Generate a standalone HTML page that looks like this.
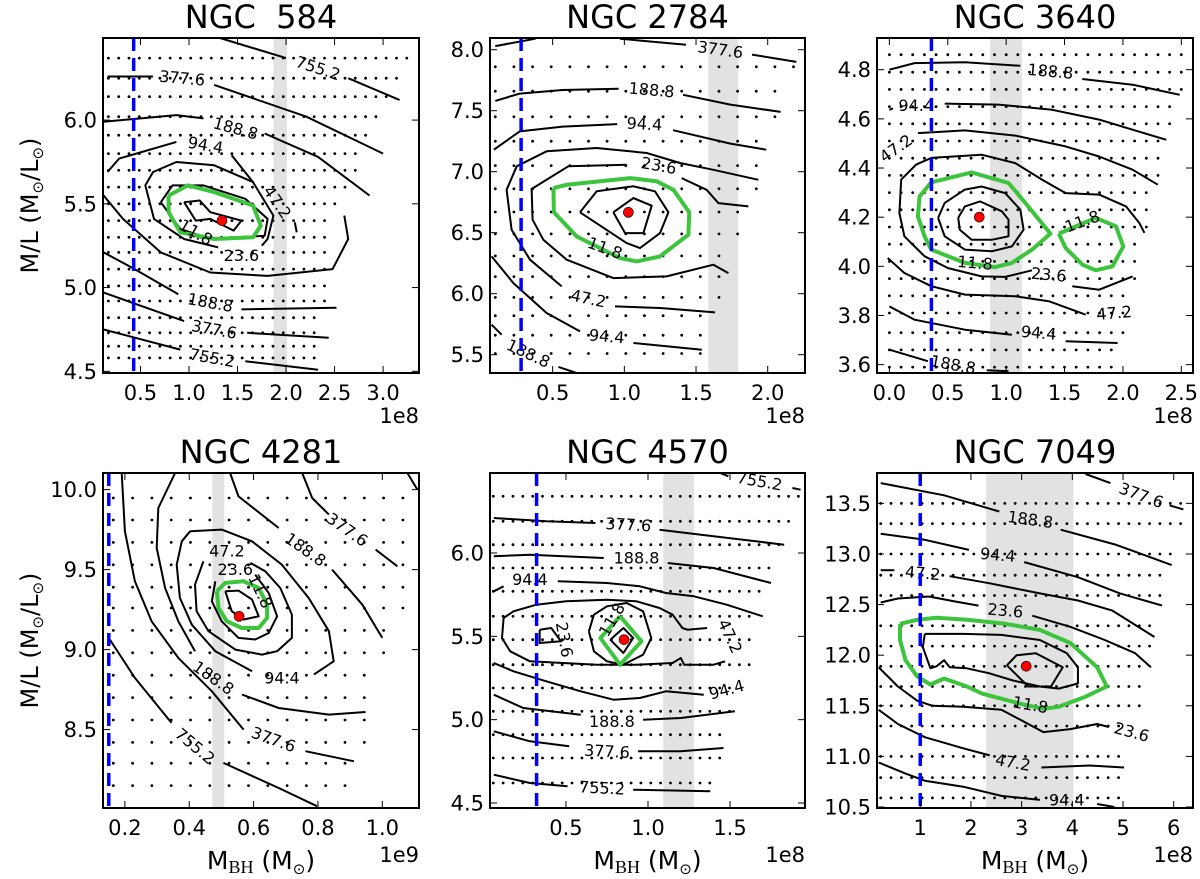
<!DOCTYPE html>
<html><head><meta charset="utf-8"><style>
html,body{margin:0;padding:0;background:#fff;}
svg{display:block;font-family:"DejaVu Sans","Liberation Sans",sans-serif;}
</style></head><body>
<svg id="fig" xmlns="http://www.w3.org/2000/svg" width="1200" height="879" viewBox="0 0 1200 879"></svg>
<script>
// ===== Panel 1: NGC 584 =====
const p1XTicks=[0.5,1.0,1.5,2.0,2.5,3.0];
const p1YTicks=[4.5,5.0,5.5,6.0];
const p1DotRows=[6.37,6.25,6.14,6.02,5.91,5.8,5.7,5.6,5.5,5.4,5.3,5.21,5.11,5.01,4.92,4.82,4.73,4.65,4.58];
const p1DotEnds=[3.31,3.2,3.12,3.0,2.9,2.8,2.72,2.62,2.55,2.5,2.5,2.5,2.5,2.45,2.4,2.35,2.35,2.3,2.3];
const p1Lines=[
 [[1.32,6.49],[2.0,6.37]],[[2.64,6.25],[3.17,6.12]],
 [[0.16,6.26],[0.63,6.26]],[[1.26,6.21],[2.21,6.02],[3.0,5.8]],
 [[0.12,5.99],[0.87,6.03],[1.15,6.01]],[[1.78,5.92],[2.33,5.78],[2.86,5.55]],
 [[0.16,5.69],[0.28,5.77],[0.87,5.87]],[[1.44,5.79],[1.66,5.63]],
 [[0.12,5.55],[0.32,5.41],[0.71,5.21],[1.22,5.09],[1.81,5.07],[2.48,5.11],[2.64,5.29],[2.6,5.43]],
 [[2.09,5.39],[2.11,5.33]],
 [[1.3,5.24],[0.95,5.29],[0.64,5.41],[0.55,5.61],[0.63,5.69],[0.87,5.75],[1.26,5.73],[1.66,5.63],[1.87,5.43],[1.81,5.29],[1.75,5.25]],
 [[0.71,5.51],[0.83,5.61],[1.15,5.61],[1.58,5.53],[1.81,5.41],[1.78,5.31],[1.22,5.29],[0.91,5.35],[0.71,5.51]],
 [[0.95,5.51],[1.11,5.52],[1.22,5.45],[1.54,5.4],[1.46,5.34],[1.22,5.41],[1.07,5.4],[0.95,5.51]],
 [[0.12,5.21],[0.44,5.11],[0.89,4.96]],[[1.54,4.87],[2.52,4.88]],
 [[0.12,4.97],[0.95,4.8]],[[1.6,4.73],[2.44,4.7]],
 [[0.12,4.75],[0.91,4.63]],[[1.58,4.56],[2.33,4.51]]
];
const p1Green=[[0.79,5.55],[0.99,5.61],[1.26,5.57],[1.66,5.49],[1.74,5.37],[1.66,5.3],[1.26,5.29],[0.91,5.33],[0.79,5.45],[0.79,5.55]];
const p1Labels=[["755.2",2.33,6.31,18],["377.6",0.93,6.25,5],["188.8",1.48,5.95,15],["94.4",1.17,5.85,10],["47.2",1.91,5.51,55],["23.6",1.54,5.19,0],["11.8",1.07,5.33,30],["188.8",1.22,4.91,10],["377.6",1.26,4.75,10],["755.2",1.24,4.58,10]];

// ===== Panel 2: NGC 2784 =====
const p2XTicks=[0.5,1.0,1.5,2.0];
const p2YTicks=[5.5,6.0,6.5,7.0,7.5,8.0];
const p2DotRows=[7.86,7.66,7.45,7.25,7.05,6.86,6.67,6.49,6.31,6.14,5.97,5.82,5.66,5.51];
const p2DotEnds=[2.19,2.14,2.09,2.04,1.98,1.92,1.85,1.81,1.77,1.73,1.68,1.63,1.59,1.54];
const p2Lines=[
 [[0.1,8.03],[0.38,8.09]],[[0.97,8.09],[1.43,8.04]],[[1.89,7.96],[2.2,7.9]],
 [[0.1,7.58],[0.27,7.64],[0.57,7.67],[0.96,7.68]],[[1.41,7.63],[1.74,7.55],[2.09,7.49]],
 [[0.09,7.18],[0.27,7.33],[0.57,7.37],[0.95,7.39]],[[1.34,7.34],[1.74,7.23],[1.99,7.18]],
 [[0.563,6.06],[0.342,6.279],[0.214,6.525],[0.179,6.852],[0.249,7.044],[0.458,7.167],[0.807,7.194],[1.156,7.153],[1.388,7.071],[1.621,7.016],[1.935,6.934]],
 [[1.016,7.057],[0.609,7.044],[0.353,6.858],[0.36,6.607],[0.435,6.443],[0.598,6.279],[0.923,6.128],[1.295,6.142],[1.621,6.238],[1.726,6.169]],
 [[1.4,6.948],[1.574,6.852],[1.656,6.743],[1.865,6.716]],
 [[0.691,6.667],[0.807,6.839],[1.063,6.88],[1.214,6.839],[1.307,6.667],[1.249,6.497],[1.109,6.374],[1.016,6.415],[0.691,6.667]],
 [[0.923,6.667],[1.063,6.784],[1.191,6.721],[1.133,6.497],[1.005,6.497],[0.923,6.667]],
 [[0.935,5.896],[1.249,5.883],[1.633,5.847]],
 [[0.074,6.306],[0.226,6.087],[0.458,5.842],[0.691,5.691]],[[1.063,5.596],[1.54,5.541]],
 [[0.074,5.746],[0.144,5.664]],[[0.54,5.4],[0.667,5.35]]
];
const p2Green=[[0.505,6.866],[0.598,6.893],[1.04,6.948],[1.226,6.921],[1.342,6.852],[1.453,6.667],[1.447,6.484],[1.249,6.306],[1.086,6.265],[0.97,6.292],[0.667,6.47],[0.509,6.667],[0.505,6.866]];
const p2Labels=[["377.6",1.67,8.0,8],["188.8",1.19,7.67,5],["94.4",1.14,7.39,3],["23.6",1.24,7.05,10],["11.8",0.865,6.374,20],["47.2",0.749,5.96,12],["94.4",0.877,5.65,5],["188.8",0.33,5.51,25]];

// ===== Panel 3: NGC 3640 =====
const p3XTicks=[0.0,0.5,1.0,1.5,2.0,2.5];
const p3YTicks=[3.6,3.8,4.0,4.2,4.4,4.6,4.8];
const p3DotRows=[4.861,4.79,4.72,4.65,4.58,4.51,4.44,4.37,4.3,4.23,4.16,4.09,4.02,3.95,3.88,3.81,3.73,3.66,3.59];
const p3DotEnds=[2.59,2.55,2.5,2.46,2.42,2.38,2.35,2.3,2.25,2.23,2.2,2.17,2.15,2.1,2.07,2.05,2.02,1.98,1.94];
const p3Lines=[
 [[0,4.8],[0.216,4.827],[0.647,4.83],[1.121,4.816]],[[1.652,4.762],[2.083,4.739],[2.486,4.698]],
 [[0,4.637],[0.03,4.643]],[[0.474,4.662],[0.934,4.658],[1.394,4.637],[1.796,4.597],[2.083,4.556],[2.371,4.515]],
 [[0.244,4.542],[0.647,4.553],[1.078,4.532],[1.509,4.488],[1.796,4.447],[2.083,4.393],[2.299,4.332]],
 [[1.221,3.984],[0.991,3.957],[0.79,3.959],[0.503,3.993],[0.302,4.041],[0.129,4.122],[0.086,4.217],[0.101,4.353],[0.23,4.414],[0.359,4.441],[0.79,4.454],[1.078,4.42],[1.307,4.353],[1.509,4.298],[1.796,4.292],[2.026,4.244],[2.141,4.176],[2.184,4.136]],
 [[1.566,3.919],[1.796,3.905],[2.083,3.959]],
 [[0.417,4.197],[0.474,4.258],[0.647,4.312],[0.79,4.325],[0.991,4.298],[1.121,4.231],[1.149,4.149],[1.049,4.081],[0.876,4.061],[0.647,4.068],[0.474,4.122],[0.417,4.197]],
 [[0.589,4.197],[0.647,4.244],[0.776,4.264],[0.963,4.224],[1.02,4.19],[1.02,4.122],[0.876,4.108],[0.704,4.108],[0.603,4.149],[0.589,4.197]],
 [[-0.014,4.034],[0.129,3.973],[0.359,3.919],[0.647,3.885],[1.078,3.878],[1.365,3.858],[1.681,3.803]],
 [[0,3.837],[0.216,3.783],[0.647,3.742],[1.049,3.722]],[[1.509,3.695],[1.954,3.688]],
 [[0,3.661],[0.33,3.614]],[[0.833,3.577],[1.02,3.573]]
];
const p3Green=[[0.359,4.342],[0.704,4.382],[1.02,4.339],[1.164,4.258],[1.379,4.133],[1.221,4.068],[1.049,4.014],[0.905,3.997],[0.647,4.014],[0.359,4.068],[0.302,4.122],[0.244,4.203],[0.259,4.285],[0.359,4.342]];
const p3Green2=[[1.451,4.133],[1.767,4.197],[1.94,4.163],[2.003,4.081],[1.911,4.0],[1.767,3.984],[1.652,4.007],[1.509,4.075],[1.451,4.133]];
const p3Labels=[["188.8",1.379,4.793,5],["94.4",0.23,4.654,0],["47.2",0.057,4.48,-35],["11.8",0.733,4.014,5],["11.8",1.652,4.183,-20],["23.6",1.365,3.966,5],["47.2",1.925,3.81,-5],["94.4",1.279,3.729,5],["188.8",0.546,3.6,10]];

// ===== Panel 4: NGC 4281 =====
const p4XTicks=[0.2,0.4,0.6,0.8,1.0];
const p4YTicks=[8.5,9.0,9.5,10.0];
const p4DotRows=[9.948,9.81,9.67,9.53,9.39,9.26,9.12,8.98,8.84,8.7,8.56,8.42,8.29,8.15];
const p4DotEnds=[1.1,1.1,1.09,1.09,1.08,1.07,1.06,1.05,1.0,0.97,0.96,0.95,0.93,0.91];
const p4Lines=[
 [[0.403,9.74],[0.501,9.75],[0.595,9.677],[0.688,9.531],[0.771,9.323],[0.834,9.115],[0.849,8.927],[0.787,8.844]],
 [[0.595,8.865],[0.481,8.99],[0.408,9.156],[0.371,9.323],[0.361,9.531],[0.377,9.677],[0.403,9.74]],
 [[0.59,9.542],[0.636,9.49],[0.683,9.385],[0.719,9.219],[0.719,9.073],[0.673,8.99],[0.626,8.969],[0.543,9.0],[0.46,9.115],[0.423,9.24],[0.418,9.406],[0.444,9.552]],
 [[0.605,9.469],[0.647,9.354],[0.673,9.208],[0.647,9.104],[0.605,9.063],[0.553,9.073],[0.501,9.177],[0.47,9.302],[0.481,9.427]],
 [[0.512,9.365],[0.553,9.369],[0.595,9.313],[0.616,9.208],[0.569,9.188],[0.532,9.24],[0.512,9.365]],
 [[0.527,10.104],[0.553,9.958],[0.678,9.76]],[[0.844,9.5],[0.938,9.281],[1.0,9.073]],
 [[0.751,10.104],[0.782,9.948],[0.834,9.844]],[[0.979,9.625],[1.047,9.521]],[[1.078,10.104],[1.109,10.0]],
 [[0.356,10.104],[0.304,9.885],[0.299,9.635],[0.325,9.385],[0.366,9.177],[0.418,8.99]],
 [[0.564,8.719],[0.678,8.635],[0.834,8.594],[0.948,8.61]],
 [[0.19,10.104],[0.2,9.74],[0.231,9.427],[0.283,9.177],[0.366,8.948],[0.47,8.74],[0.569,8.5]],
 [[0.761,8.365],[0.912,8.302]],
 [[0.153,9.063],[0.231,8.823],[0.345,8.542]],[[0.506,8.292],[0.678,8.135],[0.797,8.021]]
];
const p4Green=[[0.486,9.365],[0.512,9.417],[0.569,9.427],[0.616,9.385],[0.642,9.281],[0.642,9.198],[0.616,9.135],[0.564,9.135],[0.517,9.177],[0.491,9.26],[0.486,9.365]];
const p4Labels=[["47.2",0.517,9.615,0],["23.6",0.543,9.5,0],["11.8",0.621,9.365,65],["94.4",0.688,8.823,0],["188.8",0.761,9.625,35],["377.6",0.891,9.75,35],["188.8",0.475,8.823,35],["377.6",0.662,8.438,20],["755.2",0.418,8.396,40]];

// ===== Panel 5: NGC 4570 =====
const p5XTicks=[0.5,1.0,1.5];
const p5YTicks=[4.5,5.0,5.5,6.0];
const p5DotRows=[6.34,6.19,6.05,5.91,5.77,5.62,5.48,5.33,5.19,5.05,4.91,4.77,4.62];
const p5DotEnds=[1.93,1.88,1.85,1.75,1.7,1.66,1.66,1.62,1.54,1.5,1.49,1.45,1.4];
const p5Lines=[
 [[1.44,6.48],[1.49,6.46]],[[1.88,6.39],[1.93,6.38]],
 [[0.06,6.21],[0.38,6.19],[0.68,6.18]],[[1.07,6.14],[1.4,6.1],[1.83,6.05]],
 [[0.06,5.98],[0.28,5.99],[0.73,5.97]],[[1.12,5.94],[1.4,5.91],[1.75,5.82]],
 [[0.06,5.77],[0.12,5.8]],[[0.45,5.83],[0.75,5.82],[0.95,5.8],[1.11,5.76],[1.28,5.74],[1.48,5.69],[1.7,5.62]],
 [[0.12,5.61],[0.18,5.65],[0.32,5.69],[0.5,5.71],[0.75,5.72],[0.93,5.71],[1.07,5.67],[1.15,5.63],[1.21,5.55],[1.24,5.54],[1.36,5.55]],
 [[0.12,5.61],[0.11,5.49],[0.16,5.41],[0.28,5.35],[0.48,5.34],[0.69,5.33],[0.93,5.33],[1.15,5.34],[1.2,5.37],[1.22,5.33],[1.4,5.33],[1.47,5.35]],
 [[0.06,5.34],[0.18,5.29],[0.38,5.23],[0.59,5.17],[0.79,5.12],[0.95,5.13],[1.11,5.17],[1.34,5.15]],
 [[0.64,5.53],[0.67,5.63],[0.75,5.68],[0.87,5.7],[0.97,5.65],[1.02,5.49],[0.97,5.39],[0.85,5.33],[0.75,5.35],[0.67,5.41],[0.64,5.53]],
 [[0.77,5.48],[0.85,5.55],[0.91,5.49],[0.85,5.4],[0.77,5.48]],
 [[0.34,5.54],[0.41,5.55],[0.47,5.47],[0.34,5.46],[0.34,5.54]],
 [[0.06,5.15],[0.24,5.07],[0.59,5.03]],[[0.97,5.0],[1.2,5.01],[1.53,5.05]],
 [[0.06,4.93],[0.28,4.87],[0.52,4.84]],[[0.94,4.81],[1.2,4.81],[1.46,4.83]],
 [[0.06,4.67],[0.28,4.62],[0.51,4.6]],[[0.91,4.58],[1.38,4.57]]
];
const p5Green=[[0.83,5.62],[0.96,5.47],[0.83,5.33],[0.71,5.49],[0.83,5.62]];
const p5Labels=[["755.2",1.68,6.43,10],["377.6",0.88,6.17,3],["188.8",0.93,5.97,0],["94.4",0.28,5.84,0],["47.2",1.5,5.5,65],["94.4",1.48,5.18,-15],["23.6",0.49,5.48,80],["11.8",0.78,5.6,-60],["188.8",0.78,4.99,0],["377.6",0.75,4.81,3],["755.2",0.72,4.59,3]];

// ===== Panel 6: NGC 7049 =====
const p6XTicks=[1,2,3,4,5,6];
const p6YTicks=[10.5,11.0,11.5,12.0,12.5,13.0,13.5];
const p6DotRows=[13.5,13.3,13.0,12.79,12.59,12.29,12.09,11.89,11.69,11.5,11.3,11.0,10.79,10.59];
const p6DotEnds=[6.15,6.15,6.0,5.92,5.77,5.7,5.55,5.51,5.32,5.32,5.09,5.06,4.98,4.94];
const p6Lines=[
 [[4.26,13.79],[4.75,13.7]],[[5.92,13.48],[6.19,13.44]],
 [[0.22,13.7],[1.47,13.58],[2.56,13.42]],[[3.77,13.24],[4.87,13.09],[5.96,12.89]],
 [[0.22,13.2],[1.09,13.14],[1.96,13.04]],[[3.05,12.92],[4.11,12.77],[4.94,12.61],[5.77,12.49]],
 [[0.22,12.84],[0.49,12.84]],[[1.58,12.78],[2.37,12.71],[3.36,12.61],[4.11,12.54],[4.79,12.44],[5.62,12.18]],
 [[0.22,12.52],[0.56,12.56],[1.17,12.58],[1.69,12.53],[2.15,12.49]],[[3.21,12.39],[3.96,12.28],[4.64,12.15],[5.24,12.02],[5.55,11.88]],
 [[1.09,12.21],[1.05,12.08],[1.2,11.87],[1.32,11.89],[1.47,11.95],[1.58,11.88],[1.92,11.87],[2.37,11.82],[2.83,11.75],[3.36,11.69],[3.73,11.67],[4.11,11.72],[4.11,11.88],[3.89,12.02],[3.36,12.15],[2.6,12.2],[1.85,12.21],[1.09,12.21]],
 [[2.71,11.9],[2.9,12.0],[3.28,12.02],[3.81,11.88],[3.58,11.69],[3.13,11.69],[2.71,11.9]],
 [[0.18,11.88],[0.56,11.69],[0.94,11.55],[1.24,11.5],[1.85,11.49],[2.6,11.46],[2.98,11.36],[3.43,11.24],[3.96,11.27],[4.49,11.32],[4.72,11.29]],
 [[0.18,11.46],[0.56,11.32],[1.09,11.19],[1.85,11.08],[2.37,11.01]],[[3.39,10.89],[4.34,10.91],[5.02,10.89]],
 [[0.18,10.94],[0.71,10.83],[1.09,10.76],[1.85,10.7],[2.6,10.61],[3.36,10.57]],[[4.49,10.53],[4.83,10.5]]
];
const p6Green=[[0.6,12.31],[0.94,12.35],[1.32,12.37],[1.92,12.35],[2.68,12.31],[3.36,12.25],[3.96,12.12],[4.49,11.88],[4.68,11.69],[4.26,11.59],[3.73,11.49],[3.43,11.47],[2.98,11.52],[2.22,11.62],[1.92,11.69],[1.47,11.77],[1.2,11.71],[0.94,11.79],[0.71,11.95],[0.6,12.15],[0.6,12.31]];
const p6Labels=[["377.6",5.36,13.58,20],["188.8",3.17,13.34,8],["94.4",2.53,12.99,5],["47.2",1.05,12.81,5],["23.6",2.68,12.44,5],["11.8",3.17,11.51,10],["23.6",5.17,11.24,15],["47.2",2.83,10.94,10],["94.4",3.89,10.57,0]];

const panels=[
 {name:"ngc-584",title:"NGC\u00a0\u00a0584",L:103,T:38,R:419,B:373,x0:0.114,x1:3.37,y0:4.49,y1:6.49,xt:p1XTicks,yt:p1YTicks,xd:1,rows:p1DotRows,ends:p1DotEnds,xs:0.17,step:0.106,lines:p1Lines,greens:[p1Green],labels:p1Labels,blue:0.43,band:[1.87,2.01],best:[1.34,5.4],off:"1e8",ylab:true,xlab:false},
 {name:"ngc-2784",title:"NGC 2784",L:490,T:38,R:805,B:373,x0:0.063,x1:2.26,y0:5.35,y1:8.096,xt:p2XTicks,yt:p2YTicks,xd:1,rows:p2DotRows,ends:p2DotEnds,xs:0.1,step:0.13,lines:p2Lines,greens:[p2Green],labels:p2Labels,blue:0.28,band:[1.586,1.795],best:[1.028,6.667],off:"1e8",ylab:false,xlab:false},
 {name:"ngc-3640",title:"NGC 3640",L:877,T:38,R:1193,B:373,x0:-0.106,x1:2.6,y0:3.566,y1:4.929,xt:p3XTicks,yt:p3YTicks,xd:1,rows:p3DotRows,ends:p3DotEnds,xs:0.0,step:0.1,lines:p3Lines,greens:[p3Green,p3Green2],labels:p3Labels,blue:0.36,band:[0.862,1.135],best:[0.77,4.2],off:"1e8",ylab:false,xlab:false},
 {name:"ngc-4281",title:"NGC 4281",L:103,T:473,R:419,B:808,x0:0.132,x1:1.114,y0:8.01,y1:10.104,xt:p4XTicks,yt:p4YTicks,xd:1,rows:p4DotRows,ends:p4DotEnds,xs:0.164,step:0.06,lines:p4Lines,greens:[p4Green],labels:p4Labels,blue:0.15,band:[0.472,0.509],best:[0.555,9.208],off:"1e9",ylab:true,xlab:true},
 {name:"ngc-4570",title:"NGC 4570",L:490,T:473,R:805,B:808,x0:0.037,x1:1.957,y0:4.47,y1:6.48,xt:p5XTicks,yt:p5YTicks,xd:1,rows:p5DotRows,ends:p5DotEnds,xs:0.057,step:0.06,lines:p5Lines,greens:[p5Green],labels:p5Labels,blue:0.321,band:[1.093,1.28],best:[0.854,5.48],off:"1e8",ylab:false,xlab:true},
 {name:"ngc-7049",title:"NGC 7049",L:877,T:473,R:1193,B:808,x0:0.147,x1:6.38,y0:10.49,y1:13.80,xt:p6XTicks,yt:p6YTicks,xd:0,rows:p6DotRows,ends:p6DotEnds,xs:0.22,step:0.204,lines:p6Lines,greens:[p6Green],labels:p6Labels,blue:1.0,band:[2.3,4.02],best:[3.09,11.89],off:"1e8",ylab:false,xlab:true}
];

const NS="http://www.w3.org/2000/svg";
const svg=document.getElementById('fig');
function mk(tag,attrs,parent){const e=document.createElementNS(NS,tag);for(const k in attrs)e.setAttribute(k,attrs[k]);(parent||svg).appendChild(e);return e;}

const defs=mk('defs',{});
panels.forEach((p,i)=>{
 const sx=v=>p.L+(v-p.x0)/(p.x1-p.x0)*(p.R-p.L);
 const sy=v=>p.B-(v-p.y0)/(p.y1-p.y0)*(p.B-p.T);
 const cp=mk('clipPath',{id:'clip'+i},defs);
 mk('rect',{x:p.L,y:p.T,width:p.R-p.L,height:p.B-p.T},cp);
 const g=mk('g',{});
 
 
 const title=mk('text',{x:(p.L+p.R)/2,y:p.T-10,'text-anchor':'middle','font-size':'32'},g);
 title.textContent=p.title;
 
 
 const plot=mk('g',{'clip-path':'url(#clip'+i+')'},g);
 
 
 const band=mk('rect',{x:sx(p.band[0]),y:p.T,width:sx(p.band[1])-sx(p.band[0]),height:p.B-p.T,fill:'#e2e2e2'},plot);
 
 
 const dg=mk('g',{fill:'#000'},plot);
 
 
 p.rows.forEach((yv,r)=>{
  for(let x=p.xs;x<=p.ends[r]+1e-6;x+=p.step){
   mk('circle',{cx:sx(x).toFixed(1),cy:sy(yv).toFixed(1),r:1.4},dg);
  }
 });
 p.lines.forEach(ln=>{
  const pl=mk('polyline',{points:ln.map(q=>sx(q[0]).toFixed(1)+','+sy(q[1]).toFixed(1)).join(' '),fill:'none',stroke:'#000','stroke-width':2,'stroke-linejoin':'round'},plot);
  
  
 });
 p.greens.forEach(ln=>{
  const pl=mk('polyline',{points:ln.map(q=>sx(q[0]).toFixed(1)+','+sy(q[1]).toFixed(1)).join(' '),fill:'none',stroke:'#3cc43c','stroke-width':4,'stroke-linejoin':'round'},plot);
  
  
 });
 p.labels.forEach(l=>{
  const t=mk('text',{x:sx(l[1]).toFixed(1),y:sy(l[2]).toFixed(1),'text-anchor':'middle','dominant-baseline':'central','font-size':'16',transform:'rotate('+l[3]+' '+sx(l[1]).toFixed(1)+' '+sy(l[2]).toFixed(1)+')'},plot);
  t.textContent=l[0];
  
  
 });
 const bl=mk('line',{x1:sx(p.blue),x2:sx(p.blue),y1:p.T,y2:p.B,stroke:'#0000ff','stroke-width':3.5,'stroke-dasharray':'13,7'},plot);
 
 
 const bd=mk('circle',{cx:sx(p.best[0]),cy:sy(p.best[1]),r:5,fill:'#ff0000',stroke:'#000','stroke-width':0.6},plot);
 
 
 const fr=mk('rect',{x:p.L,y:p.T,width:p.R-p.L,height:p.B-p.T,fill:'none',stroke:'#000','stroke-width':2},g);
 
 
 p.xt.forEach(v=>{
  const X=sx(v);
  mk('line',{x1:X,x2:X,y1:p.B,y2:p.B-7,stroke:'#000','stroke-width':1},g);
  mk('line',{x1:X,x2:X,y1:p.T,y2:p.T+7,stroke:'#000','stroke-width':1},g);
  const t=mk('text',{x:X,y:p.B+27,'text-anchor':'middle','font-size':'21'},g);
  t.textContent=p.xd?v.toFixed(1):String(v);
  
  
 });
 p.yt.forEach(v=>{
  const Y=sy(v);
  mk('line',{x1:p.L,x2:p.L+7,y1:Y,y2:Y,stroke:'#000','stroke-width':1},g);
  mk('line',{x1:p.R,x2:p.R-7,y1:Y,y2:Y,stroke:'#000','stroke-width':1},g);
  const t=mk('text',{x:p.L-6,y:Y+7.5,'text-anchor':'end','font-size':'21'},g);
  t.textContent=v.toFixed(1);
  
  
 });
 const off=mk('text',{x:p.R,y:p.B+(p.xlab?54:50),'text-anchor':'end','font-size':'21'},g);
 off.textContent=p.off;
 
 
 if(p.ylab){
  const cy=(p.T+p.B)/2;
  const t=mk('text',{x:0,y:0,'text-anchor':'middle','font-size':'24',transform:'translate(38 '+cy+') rotate(-90)'},g);
  
  
  t.innerHTML='M/L (M<tspan font-size="15" dy="5">⊙</tspan><tspan dy="-5">/L</tspan><tspan font-size="15" dy="5">⊙</tspan><tspan dy="-5">)</tspan>';
 }
 if(p.xlab){
  const t=mk('text',{x:(p.L+p.R)/2,y:869,'text-anchor':'middle','font-size':'25'},g);
  
  
  t.innerHTML='M<tspan font-family="Liberation Serif, serif" font-size="18" dy="4">BH</tspan><tspan dy="-4"> (M</tspan><tspan font-size="15" dy="5">⊙</tspan><tspan dy="-5">)</tspan>';
 }
});
</script>
</body></html>
